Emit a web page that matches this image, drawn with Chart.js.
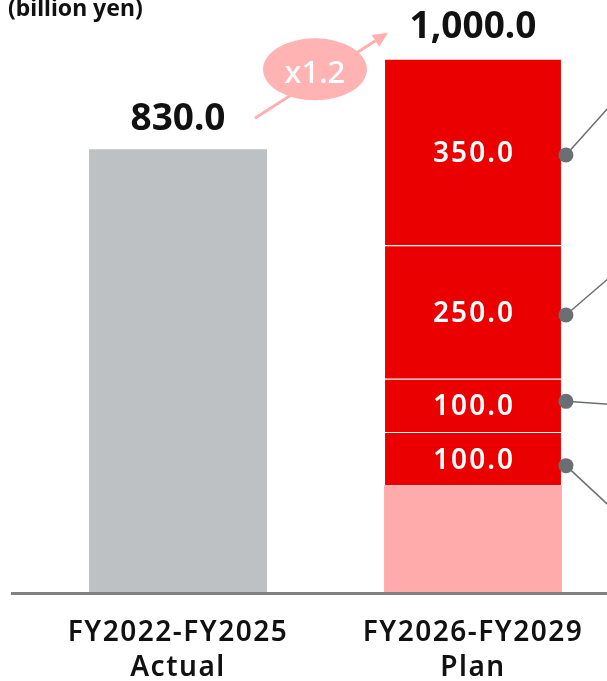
<!DOCTYPE html>
<html>
<head>
<meta charset="utf-8">
<script src="https://cdn.jsdelivr.net/npm/chart.js@4"></script>
<style>
  html, body { margin: 0; padding: 0; background: #fff; overflow: hidden; }
  #wrap { position: relative; width: 640px; height: 681px; }
</style>
</head>
<body>
<div id="wrap"><canvas id="myChart"></canvas></div>
<script>
// categories and values
var categories = [['FY2022-FY2025', 'Actual'], ['FY2026-FY2029', 'Plan']];
var actualValues = [830, null];
var planBase = [null, 200];
var planSegA = [null, 100];
var planSegB = [null, 100];
var planSegC = [null, 250];
var planSegD = [null, 350];
var unitLabel = '(billion yen)';

var RED = '#eb0000';
var PINK = '#ffabab';
var GREY = '#bec1c3';
var DOT = '#6b6e72';

// callout dot offset from segment centre, and line end offset from dot
var callouts = [
    { dy: 7, ex: 43, ey: 40 },
    { dy: -4, ex: 43, ey: 3 },
    { dy: 3, ex: 43, ey: -37 },
    { dy: 3, ex: 43, ey: -48 }
];

function fmt(v) {
    return v.toLocaleString('en-US', { minimumFractionDigits: 1, maximumFractionDigits: 1 });
}

var overlay = {
    id: 'overlay',
    beforeDraw: function (chart) {
        // a little tracking for the category labels
        chart.ctx.letterSpacing = '1.5px';
    },
    afterDraw: function (chart) {
        var ctx = chart.ctx;
        ctx.letterSpacing = '0px';
        var y0 = chart.scales.y.getPixelForValue(0);

        // unit label
        ctx.save();
        ctx.fillStyle = '#111';
        ctx.font = 'bold 23px "Noto Sans"';
        ctx.textAlign = 'left';
        ctx.textBaseline = 'alphabetic';
        ctx.fillText(unitLabel, 8, 16);

        // axis line
        ctx.strokeStyle = '#808080';
        ctx.lineWidth = 3;
        ctx.beginPath();
        ctx.moveTo(11, y0 + 1.5);
        ctx.lineTo(chart.width, y0 + 1.5);
        ctx.stroke();

        // totals
        var actualBar = chart.getDatasetMeta(0).data[0];
        var topMeta = chart.getDatasetMeta(chart.data.datasets.length - 1);
        var topBar = topMeta.data[1];
        var planTotal = 0;
        for (var d = 1; d < chart.data.datasets.length; d++) {
            planTotal += chart.data.datasets[d].data[1] || 0;
        }
        ctx.fillStyle = '#111';
        ctx.font = 'bold 37px "Noto Sans"';
        ctx.textAlign = 'center';
        ctx.fillText(fmt(actualValues[0]), actualBar.x, actualBar.y - 19);
        ctx.fillText(fmt(planTotal), topBar.x, topBar.y - 21);

        // segment labels and callouts
        for (var i = 2; i < chart.data.datasets.length; i++) {
            var bar = chart.getDatasetMeta(i).data[1];
            var val = chart.data.datasets[i].data[1];
            var cy = (bar.y + bar.base) / 2;
            ctx.fillStyle = '#fff';
            ctx.font = '600 28px "Noto Sans"';
            ctx.letterSpacing = '2px';
            ctx.fillText(fmt(val), bar.x + 1, cy + 10);
            ctx.letterSpacing = '0px';

            var c = callouts[i - 2];
            var dx = bar.x + bar.width / 2 + 4;
            var dy = cy + c.dy;
            ctx.strokeStyle = DOT;
            ctx.lineWidth = 1.5;
            ctx.beginPath();
            ctx.moveTo(dx, dy);
            ctx.lineTo(dx + c.ex, dy + c.ey);
            ctx.stroke();
            ctx.fillStyle = DOT;
            ctx.beginPath();
            ctx.arc(dx, dy, 7.5, 0, Math.PI * 2);
            ctx.fill();
        }

        // growth arrow
        var sx = actualBar.x + actualBar.width / 2 - 12, sy = actualBar.y - 31;
        var ex = topBar.x - topBar.width / 2 + 4, ey = topBar.y - 26;
        var ang = Math.atan2(ey - sy, ex - sx);
        var head = 15;
        ctx.strokeStyle = '#ffb0b0';
        ctx.fillStyle = '#ffb0b0';
        ctx.lineWidth = 3;
        ctx.beginPath();
        ctx.moveTo(sx, sy);
        ctx.lineTo(ex - head * Math.cos(ang), ey - head * Math.sin(ang));
        ctx.stroke();
        ctx.beginPath();
        ctx.moveTo(ex, ey);
        ctx.lineTo(ex - head * Math.cos(ang) + 7 * Math.sin(ang), ey - head * Math.sin(ang) - 7 * Math.cos(ang));
        ctx.lineTo(ex - head * Math.cos(ang) - 7 * Math.sin(ang), ey - head * Math.sin(ang) + 7 * Math.cos(ang));
        ctx.closePath();
        ctx.fill();

        var ox = sx + 60, oy = sy - 49;
        ctx.fillStyle = '#ffb3b3';
        ctx.beginPath();
        ctx.ellipse(ox, oy, 52, 31, 0, 0, Math.PI * 2);
        ctx.fill();
        ctx.fillStyle = '#fff';
        ctx.font = '500 31px "Noto Sans"';
        ctx.fillText('x' + (planTotal / actualValues[0]).toFixed(1), ox, oy + 14);
        ctx.restore();
    }
};

var ctx = document.getElementById('myChart').getContext('2d');
var chart = new Chart(ctx, {
    type: 'bar',
    data: {
        labels: categories,
        datasets: [
            { data: actualValues, backgroundColor: GREY, borderWidth: 0 },
            { data: planBase, backgroundColor: PINK, borderWidth: 0 },
            { data: planSegA, backgroundColor: RED, borderColor: '#fff', borderWidth: 1 },
            { data: planSegB, backgroundColor: RED, borderColor: '#fff', borderWidth: 1 },
            { data: planSegC, backgroundColor: RED, borderColor: '#fff', borderWidth: 1 },
            { data: planSegD, backgroundColor: RED, borderColor: '#fff', borderWidth: 1 }
        ]
    },
    options: {
        responsive: true,
        maintainAspectRatio: false,
        animation: false,
        layout: { padding: { left: 30.5, right: 19.5, top: 0, bottom: 0 } },
        datasets: { bar: { barPercentage: 0.603, categoryPercentage: 1 } },
        plugins: { legend: { display: false }, tooltip: { enabled: false } },
        scales: {
            x: {
                stacked: true,
                grid: { display: false, drawTicks: false },
                border: { display: false },
                ticks: {
                    color: '#111',
                    padding: 24,
                    font: { family: 'Noto Sans', size: 28, weight: '600', lineHeight: '35px' }
                },
                afterFit: function (s) { s.height = 89; }
            },
            y: {
                stacked: true,
                display: false,
                min: 0,
                max: 1110
            }
        }
    },
    plugins: [overlay]
});
</script>
</body>
</html>
